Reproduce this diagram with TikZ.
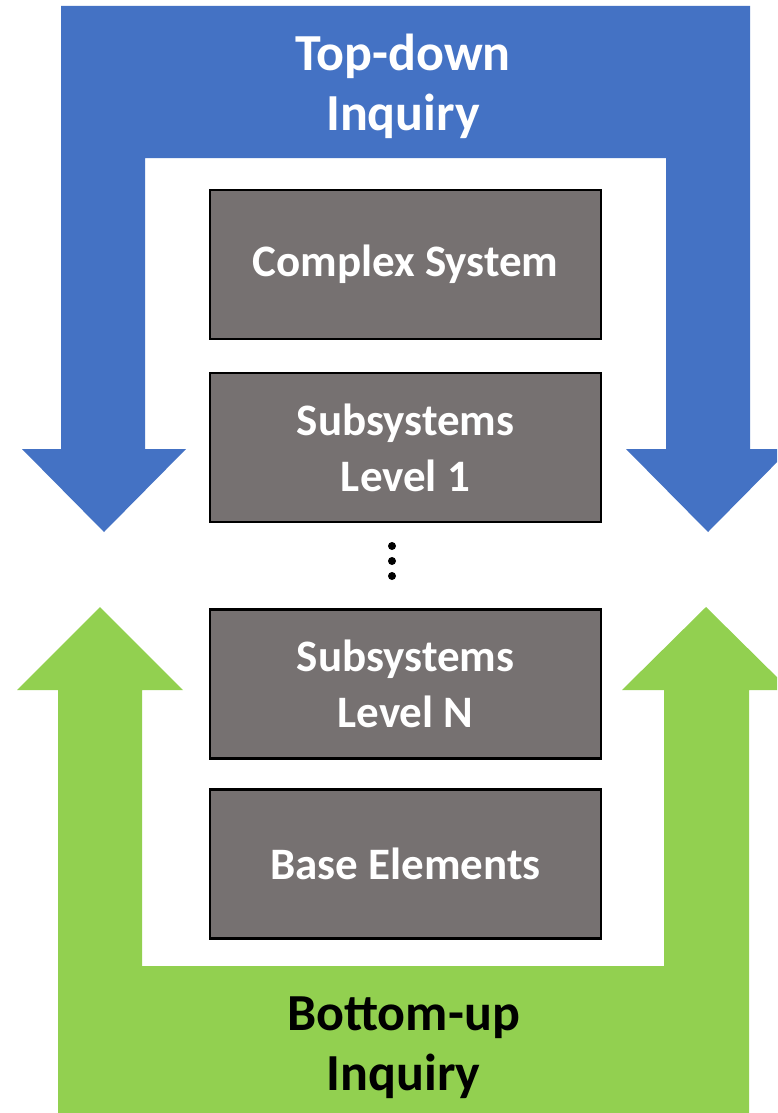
\documentclass[tikz,border=0pt]{standalone}
\usepackage{fontspec}
\setmainfont{Carlito}
\definecolor{inqblue}{HTML}{4472C4}
\definecolor{inqgreen}{HTML}{92D050}
\definecolor{boxgray}{HTML}{767171}
\begin{document}
\begin{tikzpicture}[x=1pt,y=-1pt,
  levelbox/.style={draw=black, line width=2.2pt, fill=boxgray,
    minimum width=391pt, minimum height=149pt, inner sep=0pt,
    text=white, align=center, font=\bfseries\fontsize{45}{56}\selectfont},
  inqlabel/.style={inner sep=0pt, align=center,
    font=\bfseries\fontsize{52}{60}\selectfont}]
\useasboundingbox (0,0) rectangle (777,1113);
\clip (0,0) rectangle (777,1113);
\fill[white] (0,0) rectangle (777,1113);

% top-down inquiry: bracket with two downward arrows
\fill[inqblue] (61,6) -- (750,6) -- (750,449) -- (790,449) -- (708,532)
  -- (626,449) -- (666,449) -- (666,158) -- (145,158) -- (145,449)
  -- (186,449) -- (104,532) -- (22,449) -- (61,449) -- cycle;

% bottom-up inquiry: bracket with two upward arrows
\fill[inqgreen] (58,1120) -- (58,690) -- (17,690) -- (100,607) -- (183,690)
  -- (142,690) -- (142,966) -- (664,966) -- (664,690) -- (622,690)
  -- (706,607) -- (790,690) -- (749,690) -- (749,1120) -- cycle;

\node[inqlabel, text=white] (topdown) at (403,86) {Top-down\\Inquiry};
\node[inqlabel, text=black] (bottomup) at (403.5,1048) {Bottom-up\\Inquiry};

% levels of the system hierarchy
\node[levelbox] (complex) at (405.5,264.5) {Complex System};
\node[levelbox] (level1) at (405.5,447.5) {Subsystems\\Level 1};
\node[levelbox] (levelN) at (405.5,684) {Subsystems\\Level N};
\node[levelbox] (base) at (405.5,864) {Base Elements};

% vertical ellipsis between the levels
\foreach \yy in {546,561,576} \fill[black] (392,\yy) circle (4pt);
\end{tikzpicture}
\end{document}
